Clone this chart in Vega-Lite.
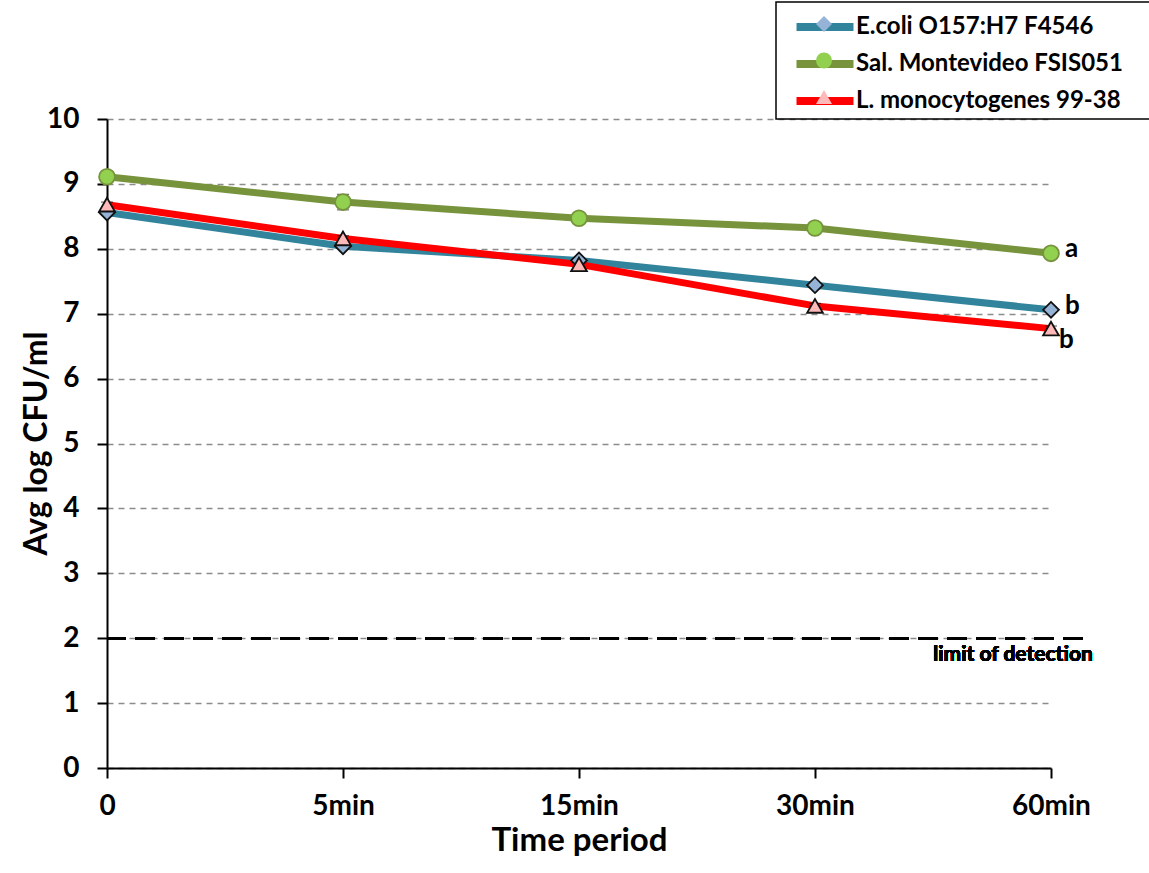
{
  "$schema": "https://vega.github.io/schema/vega-lite/v6.json",
  "width": 976,
  "height": 649,
  "autosize": {"type": "none"},
  "padding": {"left": 107, "top": 119, "right": 66, "bottom": 105},
  "background": "white",
  "config": {
    "font": "Lato",
    "view": {"stroke": null},
    "axis": {
      "labelFont": "Lato", "labelFontWeight": "bold", "labelColor": "#000",
      "titleFont": "Lato", "titleFontWeight": "bold", "titleColor": "#000",
      "domainColor": "#000", "domainWidth": 2, "tickColor": "#000", "tickWidth": 2
    },
    "legend": {"labelFont": "Lato", "labelLimit": 600, "strokeWidth": 1.5}
  },
  "data": {
    "values": [
      {"Strain": "E.coli O157:H7 F4546", "Time": "0", "logCFU": 8.56, "lo": 8.52, "hi": 8.60, "sig": null},
      {"Strain": "E.coli O157:H7 F4546", "Time": "5min", "logCFU": 8.04, "lo": 8.00, "hi": 8.08, "sig": null},
      {"Strain": "E.coli O157:H7 F4546", "Time": "15min", "logCFU": 7.82, "lo": 7.78, "hi": 7.86, "sig": null},
      {"Strain": "E.coli O157:H7 F4546", "Time": "30min", "logCFU": 7.44, "lo": 7.40, "hi": 7.48, "sig": null},
      {"Strain": "E.coli O157:H7 F4546", "Time": "60min", "logCFU": 7.06, "lo": 7.02, "hi": 7.10, "sig": "b"},
      {"Strain": "Sal. Montevideo FSIS051", "Time": "0", "logCFU": 9.11, "lo": 9.07, "hi": 9.15, "sig": null},
      {"Strain": "Sal. Montevideo FSIS051", "Time": "5min", "logCFU": 8.72, "lo": 8.60, "hi": 8.84, "sig": null},
      {"Strain": "Sal. Montevideo FSIS051", "Time": "15min", "logCFU": 8.47, "lo": 8.43, "hi": 8.51, "sig": null},
      {"Strain": "Sal. Montevideo FSIS051", "Time": "30min", "logCFU": 8.32, "lo": 8.28, "hi": 8.36, "sig": null},
      {"Strain": "Sal. Montevideo FSIS051", "Time": "60min", "logCFU": 7.93, "lo": 7.89, "hi": 7.97, "sig": "a"},
      {"Strain": "L. monocytogenes 99-38", "Time": "0", "logCFU": 8.68, "lo": 8.64, "hi": 8.72, "sig": null},
      {"Strain": "L. monocytogenes 99-38", "Time": "5min", "logCFU": 8.16, "lo": 8.12, "hi": 8.20, "sig": null},
      {"Strain": "L. monocytogenes 99-38", "Time": "15min", "logCFU": 7.76, "lo": 7.72, "hi": 7.80, "sig": null},
      {"Strain": "L. monocytogenes 99-38", "Time": "30min", "logCFU": 7.12, "lo": 7.08, "hi": 7.16, "sig": null},
      {"Strain": "L. monocytogenes 99-38", "Time": "60min", "logCFU": 6.77, "lo": 6.73, "hi": 6.81, "sig": "b"}
    ]
  },
  "layer": [
    {
      "mark": {"type": "line", "strokeWidth": 7, "strokeCap": "round", "strokeJoin": "round"},
      "encoding": {
        "x": {
          "field": "Time", "type": "ordinal",
          "scale": {"type": "point", "domain": ["0", "5min", "15min", "30min", "60min"], "range": [0, 944], "padding": 0},
          "axis": {
            "title": "Time period", "titleFontSize": 33, "titlePadding": 4,
            "labelFontSize": 28, "labelAngle": 0, "labelPadding": 14, "tickSize": 10, "grid": false
          }
        },
        "y": {
          "field": "logCFU", "type": "quantitative", "title": "Avg log CFU/ml",
          "scale": {"domain": [0, 10], "nice": false, "zero": true},
          "axis": {
            "titleFontSize": 32, "titleAngle": -90,
            "titleX": -71, "titleY": 324, "titleAlign": "center", "titleBaseline": "middle",
            "values": [0, 1, 2, 3, 4, 5, 6, 7, 8, 9, 10], "format": "d",
            "labelFontSize": 28, "labelPadding": 18, "tickSize": 10,
            "grid": true, "gridColor": "#8c8c8c", "gridDash": [6, 5], "gridWidth": 1.5
          }
        },
        "color": {
          "field": "Strain", "type": "nominal",
          "sort": ["E.coli O157:H7 F4546", "Sal. Montevideo FSIS051", "L. monocytogenes 99-38"],
          "scale": {"range": ["#31849B", "#77933C", "#FF0000"]},
          "legend": {
            "orient": "none", "legendX": 694, "legendY": -116, "title": null,
            "symbolType": "M-2.59,0H2.59", "symbolStrokeWidth": 8, "symbolSize": 484,
            "labelFontSize": 24, "labelFontWeight": "bold", "labelColor": "#000", "labelOffset": 16,
            "padding": 9, "rowPadding": 5
          }
        },
        "order": {"value": null}
      }
    },
    {
      "mark": {"type": "errorbar", "ticks": {"size": 12, "color": "#000", "strokeWidth": 1.5}, "rule": {"color": "#000", "strokeWidth": 1.5}},
      "encoding": {
        "x": {"field": "Time", "type": "ordinal"},
        "y": {"field": "lo", "type": "quantitative", "title": "Avg log CFU/ml"},
        "y2": {"field": "hi"}
      }
    },
    {
      "mark": {"type": "point", "filled": true, "size": 250, "opacity": 1, "strokeWidth": 1.8},
      "encoding": {
        "x": {"field": "Time", "type": "ordinal"},
        "y": {"field": "logCFU", "type": "quantitative", "title": "Avg log CFU/ml"},
        "fill": {
          "field": "Strain", "type": "nominal",
          "scale": {
            "domain": ["E.coli O157:H7 F4546", "Sal. Montevideo FSIS051", "L. monocytogenes 99-38"],
            "range": ["#95B3D7", "#92D050", "#FFB9B9"]
          },
          "legend": {
            "orient": "none", "legendX": 669, "legendY": -117, "title": null,
            "labelOpacity": 0, "labelFontSize": 24, "labelFontWeight": "bold", "labelOffset": 68,
            "symbolOffset": 26, "padding": 10, "rowPadding": 12.5,
            "symbolSize": 256, "symbolStrokeWidth": 1.5, "symbolStrokeColor": "#111",
            "strokeColor": "#000"
          }
        },
        "shape": {
          "field": "Strain", "type": "nominal",
          "scale": {
            "domain": ["E.coli O157:H7 F4546", "Sal. Montevideo FSIS051", "L. monocytogenes 99-38"],
            "range": ["diamond", "circle", "triangle-up"]
          },
          "legend": {
            "orient": "none", "legendX": 669, "legendY": -117, "title": null,
            "labelOpacity": 0, "labelFontSize": 24, "labelFontWeight": "bold", "labelOffset": 68,
            "symbolOffset": 26, "padding": 10, "rowPadding": 12.5,
            "symbolSize": 256, "symbolStrokeWidth": 1.5, "symbolStrokeColor": "#111",
            "strokeColor": "#000"
          }
        },
        "stroke": {
          "condition": {"test": "datum.Strain === 'Sal. Montevideo FSIS051'", "value": "#77933C"},
          "value": "#111"
        }
      }
    },
    {
      "transform": [{"filter": "datum.sig != null && datum.Strain != 'L. monocytogenes 99-38'"}],
      "mark": {"type": "text", "align": "left", "baseline": "alphabetic", "dx": 14, "dy": 4, "fontSize": 26, "fontWeight": "bold", "color": "#000"},
      "encoding": {
        "x": {"field": "Time", "type": "ordinal"},
        "y": {"field": "logCFU", "type": "quantitative", "title": "Avg log CFU/ml"},
        "text": {"field": "sig"}
      }
    },
    {
      "transform": [{"filter": "datum.sig != null && datum.Strain == 'L. monocytogenes 99-38'"}],
      "mark": {"type": "text", "align": "left", "baseline": "alphabetic", "dx": 8, "dy": 19, "fontSize": 26, "fontWeight": "bold", "color": "#000"},
      "encoding": {
        "x": {"field": "Time", "type": "ordinal"},
        "y": {"field": "logCFU", "type": "quantitative", "title": "Avg log CFU/ml"},
        "text": {"field": "sig"}
      }
    },
    {
      "mark": {"type": "rule", "color": "#000", "strokeWidth": 2, "strokeDash": [20, 9]},
      "encoding": {"y": {"datum": 2, "type": "quantitative"}}
    },
    {
      "mark": {"type": "text", "align": "center", "baseline": "middle", "dx": -38, "dy": 17, "fontSize": 21, "fontWeight": "bold", "color": "#000", "text": "limit of detection"},
      "encoding": {
        "x": {"datum": "60min", "type": "ordinal"},
        "y": {"datum": 2, "type": "quantitative"}
      }
    }
  ]
}
